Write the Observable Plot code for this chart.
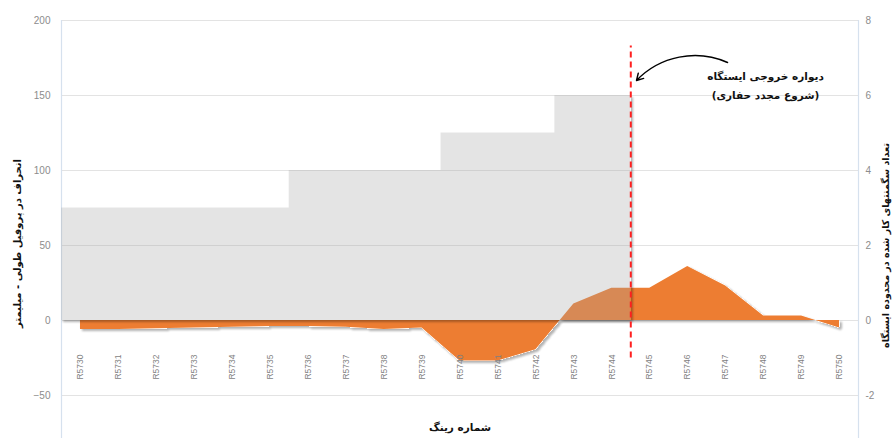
<!DOCTYPE html>
<html><head><meta charset="utf-8">
<script src="https://cdn.jsdelivr.net/npm/d3@7"></script>
<script src="https://cdn.jsdelivr.net/npm/@observablehq/plot@0.6"></script>
<style>html,body{margin:0;padding:0;background:#fff}</style>
</head><body><div id="chart"></div>
<script>
const rings = ["R5730","R5731","R5732","R5733","R5734","R5735","R5736","R5737","R5738","R5739","R5740","R5741","R5742","R5743","R5744","R5745","R5746","R5747","R5748","R5749","R5750"];
const deviation = [-6,-6,-5.5,-5,-4.5,-4,-4,-4.5,-6,-5,-27,-27,-19.5,11,21.5,21.5,36,23,3,3,-5];
const segments = [3,3,3,3,3,3,4,4,4,4,5,5,5,6,6,null,null,null,null,null,null];
const leftTicks = [-50,0,50,100,150,200];
const rightTicks = [-2,0,2,4,6,8];
const ratio = 25; // right axis unit -> left axis unit
const leftTitle = "انحراف در پروفیل طولی - میلیمتر";
const rightTitle = "تعداد سگمنتهای کار شده در محدوده ایستگاه";
const xTitle = "شماره رینگ";
const noteLines = ["دیواره خروجی ایستگاه", "(شروع مجدد حفاری)"];
const wallAfter = "R5744";
const wallRange = [-25, 183];
const arrowFrom = [17.05, 172];
const arrowTo = [14.65, 160];
const notePos = [18.05, 158];
const labelY = -31;

const devData = deviation.map((v, i) => ({i, v}));
const segVals = segments.filter(v => v != null);
const segData = segVals.map((c, i) => ({x: i - 0.5, y: c * ratio}));
segData.push({x: segVals.length - 0.5, y: segVals[segVals.length - 1] * ratio});
const wallX = rings.indexOf(wallAfter) + 0.5;
const fa = "'DejaVu Sans', sans-serif";

const chart = Plot.plot({
  width: 893, height: 438,
  marginLeft: 61, marginRight: 35, marginTop: 20, marginBottom: 0,
  x: {type: "linear", domain: [-0.5, rings.length - 0.5], axis: null},
  y: {domain: [-78.67, 200], axis: null, label: null},
  style: {fontFamily: "'Liberation Sans', sans-serif", background: "white"},
  marks: [
    Plot.gridY(leftTicks, {stroke: "#E3E3E3", strokeOpacity: 1}),
    Plot.ruleX([-0.5, rings.length - 0.5], {stroke: "#D6E1EE", strokeWidth: 1.2}),
    Plot.areaY(devData, {x: "i", y: "v", fill: "#ED7D31"}),
    Plot.areaY(segData, {x: "x", y: "y", curve: "step-after", fill: "#A5A5A5", fillOpacity: 0.3}),
    Plot.axisY(leftTicks, {anchor: "left", tickSize: 0, tickPadding: 11, color: "#8C8C8C", fontSize: 10, label: null}),
    Plot.axisY(rightTicks.map(d => d * ratio), {anchor: "right", tickSize: 0, tickPadding: 7, tickFormat: d => d / ratio, color: "#8C8C8C", fontSize: 10, label: null}),
    Plot.text(rings, {x: (d, i) => i, y: labelY, text: d => d, rotate: -90, fontSize: 8.5, fill: "#7F7F7F"}),
    Plot.ruleX([wallX], {y1: wallRange[0], y2: wallRange[1], stroke: "#FF2020", strokeWidth: 2, strokeDasharray: "6,4"}),
    Plot.arrow([0], {x1: arrowFrom[0], y1: arrowFrom[1], x2: arrowTo[0], y2: arrowTo[1], bend: -35, stroke: "black", strokeWidth: 1.4, headLength: 8}),
    Plot.text([noteLines.join("\n")], {x: notePos[0], y: notePos[1], fontFamily: fa, fontWeight: "bold", fontSize: 10.5, lineHeight: 1.75, fill: "#111"}),
    Plot.text([leftTitle], {frameAnchor: "left", textAnchor: "middle", dx: -44, dy: 14, rotate: -90, fontFamily: fa, fontWeight: "bold", fontSize: 10, fill: "#111"}),
    Plot.text([rightTitle], {frameAnchor: "right", textAnchor: "middle", dx: 27, dy: 16, rotate: -90, fontFamily: fa, fontWeight: "bold", fontSize: 9.5, fill: "#111"}),
    Plot.text([xTitle], {frameAnchor: "bottom", dy: -8, fontFamily: fa, fontWeight: "bold", fontSize: 10.5, fill: "#111"})
  ]
});

// subtle outer drop shadow on the areas (only outside the shape)
const ns = "http://www.w3.org/2000/svg";
const defs = document.createElementNS(ns, "defs");
defs.innerHTML = '<filter id="shd" x="-5%" y="-10%" width="110%" height="130%">' +
  '<feColorMatrix in="SourceAlpha" type="matrix" values="0 0 0 0 0  0 0 0 0 0  0 0 0 0 0  0 0 0 100 0" result="mask"/>' +
  '<feGaussianBlur in="mask" stdDeviation="1.2" result="blur"/>' +
  '<feOffset in="blur" dx="1.5" dy="2" result="off"/>' +
  '<feComposite in="off" in2="mask" operator="out" result="outer"/>' +
  '<feComponentTransfer in="outer" result="sh"><feFuncA type="linear" slope="0.3"/></feComponentTransfer>' +
  '<feMerge><feMergeNode in="sh"/><feMergeNode in="SourceGraphic"/></feMerge></filter>';
chart.insertBefore(defs, chart.firstChild);
chart.querySelectorAll('g[aria-label="area"]').forEach(g => g.setAttribute("filter", "url(#shd)"));
document.getElementById("chart").appendChild(chart);
</script></body></html>
